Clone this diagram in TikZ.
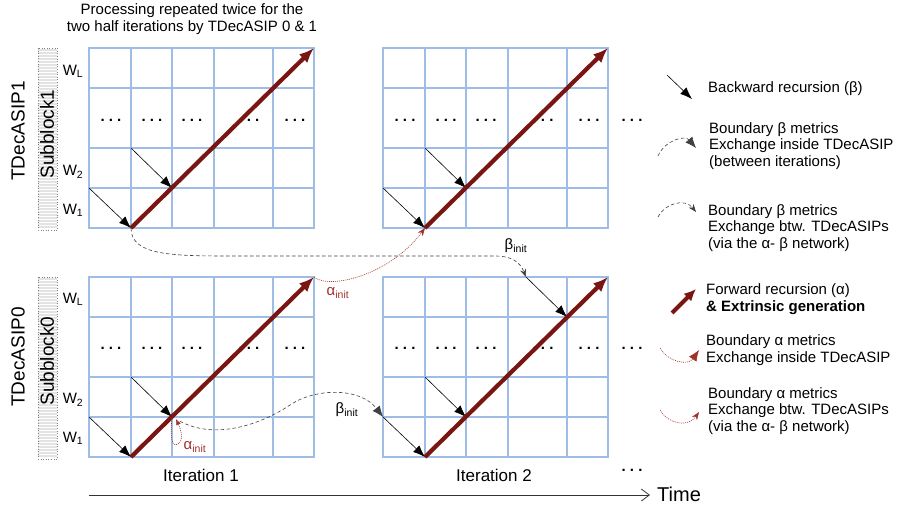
\documentclass[tikz,border=0pt]{standalone}
\usepackage{fontspec}
\setmainfont{Liberation Sans}
\usetikzlibrary{arrows.meta}
\definecolor{gridblue}{RGB}{158,188,228}
\definecolor{fwdred}{RGB}{122,22,18}
\definecolor{initred}{RGB}{160,50,42}
\begin{document}
\begin{tikzpicture}[x=1pt,y=-1pt,
  txt/.style={font=\fontsize{15}{16.5}\selectfont,inner sep=0pt},
  legtxt/.style={txt,anchor=west,align=left},
  big/.style={font=\fontsize{19}{21}\selectfont,inner sep=0pt,rotate=90},
  itertxt/.style={font=\fontsize{17}{19}\selectfont,inner sep=0pt},
  dots/.style={font=\fontsize{15}{16.5}\bfseries\selectfont,inner sep=0pt},
  cell/.style={gridblue,line width=1.6pt,line cap=rect},
  stripe/.style={gray!22,line width=1.2pt},
  fwd/.style={-{Latex[length=15pt,width=12pt]},fwdred,line width=4.2pt},
  bwd/.style={-{Latex[length=12pt,width=9pt]},line width=.6pt},
  bxin/.style={-{Latex[length=11pt,width=9pt]},black!75,line width=.6pt,
    dash pattern=on 3.5pt off 2.5pt},
  bxbtw/.style={-{Stealth[length=8pt,width=6pt]},black!75,line width=.6pt,
    dash pattern=on 3.5pt off 2.5pt},
  axin/.style={-{Latex[length=11pt,width=9pt]},initred,line width=.6pt,
    dash pattern=on 1pt off 1pt},
  axbtw/.style={-{Stealth[length=8pt,width=6pt]},initred,line width=.6pt,
    dash pattern=on 1pt off 1pt}]
\useasboundingbox (0,0) rectangle (897,506);
\node[txt,align=center] (hdr) at (192,19)
  {Processing repeated twice for the\\two half iterations by TDecASIP 0 \& 1};
\foreach \g/\gx/\gy in {a/89/48,b/383/48,c/89/277,d/383/277}{
 \begin{scope}[shift={(\gx,\gy)}]
  \foreach \c in {0,42,83,125,184,225} \draw[cell] (\c,0)--(\c,180);
  \foreach \r in {0,40,100,140,180} \draw[cell] (0,\r)--(225,\r);
  \coordinate (\g-w1) at (0,140);
  \coordinate (\g-s) at (42,180);
  \coordinate (\g-w2) at (42,100);
  \coordinate (\g-m) at (83,140);
  \coordinate (\g-top) at (143,0);
  \coordinate (\g-n) at (184,40);
  \coordinate (\g-e) at (225,0);
 \end{scope}
}
\foreach \gx/\gy in {89/120,89/348,383/120,383/348}
 \foreach \dx in {22,63,103,160,206}
  \node[dots] (dt\gx\gy\dx) at (\gx+\dx,\gy) {.\ .\ .};
\node[dots] (dtb) at (632,120) {.\ .\ .};
\node[dots] (dtd) at (632,348) {.\ .\ .};
\foreach \by/\k in {48/1,277/0}{
 \foreach \s in {2,5,...,180} \draw[stripe] (38,\by+\s)--(57,\by+\s);
 \draw[gray,dotted,line width=.6pt] (38,\by) rectangle (57,\by+182);
}
\node[big] (asip1) at (18,131) {TDecASIP1};
\node[big] (asip0) at (18,357) {TDecASIP0};
\node[big] (sub1) at (47,134) {Subblock1};
\node[big] (sub0) at (47,361) {Subblock0};
\node[txt] (wl1) at (73,71) {W\textsubscript{L}};
\node[txt] (wb1) at (73,172) {W\textsubscript{2}};
\node[txt] (wa1) at (73,210) {W\textsubscript{1}};
\node[txt] (wl0) at (73,299) {W\textsubscript{L}};
\node[txt] (wb0) at (73,400) {W\textsubscript{2}};
\node[txt] (wa0) at (73,438) {W\textsubscript{1}};
\foreach \g in {a,b,c,d}{
 \draw[bwd] (\g-w1)--(\g-s);
 \draw[bwd] (\g-w2)--(\g-m);
}
\draw[bwd] (d-top)--(d-n);
\foreach \g in {a,b,c,d} \draw[fwd] (\g-s)--(\g-e);
\draw[bxbtw] (a-s) .. controls (131,255) and (170,256) .. (230,256)
  -- (495,256) .. controls (512,256) and (520,262) .. (d-top);
\draw[axbtw] (c-e) .. controls (330,290) and (390,275) .. (b-s);
\draw[bxin,shorten <=9pt] (c-m) .. controls (215,440) and (260,425) .. (290,405)
  .. controls (315,388) and (360,387) .. (d-w1);
\coordinate (c-tip) at (176,419);
\draw[axin,-{Latex[length=6pt,width=5pt]}] (c-m) .. controls (170,440) and (172,447) .. (178,444)
  .. controls (184,440) and (181,430) .. (c-tip);
\node[txt] (binit1) at (516,246) {β\textsubscript{init}};
\node[txt,initred] (ainit1) at (338,293) {α\textsubscript{init}};
\node[txt] (binit2) at (347,410) {β\textsubscript{init}};
\node[txt,initred] (ainit2) at (195,447) {α\textsubscript{init}};
\node[itertxt] (it1) at (201,475) {Iteration 1};
\node[itertxt] (it2) at (494,475) {Iteration 2};
\node[dots] (more) at (632,470) {.\ .\ .};
\coordinate (t0) at (89,495);
\coordinate (t1) at (650,495);
\draw[-{Straight Barb[length=8pt,width=12pt]},black!80,line width=.8pt] (t0)--(t1);
\node[font=\fontsize{20}{22}\selectfont,anchor=west,inner sep=0pt] (time) at (657,494) {Time};
\coordinate (l1a) at (667,75);
\coordinate (l1b) at (692,99);
\coordinate (l2a) at (658,156);
\coordinate (l2b) at (696,148);
\coordinate (l3a) at (658,217);
\coordinate (l3b) at (696,212);
\coordinate (l4a) at (672,313);
\coordinate (l4b) at (696,289);
\coordinate (l5a) at (660,348);
\coordinate (l5b) at (699,350);
\coordinate (l6a) at (660,410);
\coordinate (l6b) at (699,412);
\draw[bwd] (l1a)--(l1b);
\draw[bxin] (l2a) .. controls (665,140) and (685,135) .. (l2b);
\draw[bxbtw] (l3a) .. controls (665,203) and (685,198) .. (l3b);
\draw[fwd,-{Latex[length=12pt,width=11pt]}] (l4a)--(l4b);
\draw[axin] (l5a) .. controls (668,362) and (688,366) .. (l5b);
\draw[axbtw] (l6a) .. controls (668,424) and (688,428) .. (l6b);
\node[legtxt] (leg1) at (708,89) {Backward recursion (β)};
\node[legtxt] (leg2) at (709,146)
  {Boundary β metrics\\Exchange inside TDecASIP\\(between iterations)};
\node[legtxt] (leg3) at (708,228)
  {Boundary β metrics\\Exchange btw. TDecASIPs\\(via the α- β network)};
\node[legtxt] (leg4) at (706,299)
  {Forward recursion (α)\\\textbf{\& Extrinsic generation}};
\node[legtxt] (leg5) at (706,350)
  {Boundary α metrics\\Exchange inside TDecASIP};
\node[legtxt] (leg6) at (708,411)
  {Boundary α metrics\\Exchange btw. TDecASIPs\\(via the α- β network)};
\end{tikzpicture}
\end{document}
